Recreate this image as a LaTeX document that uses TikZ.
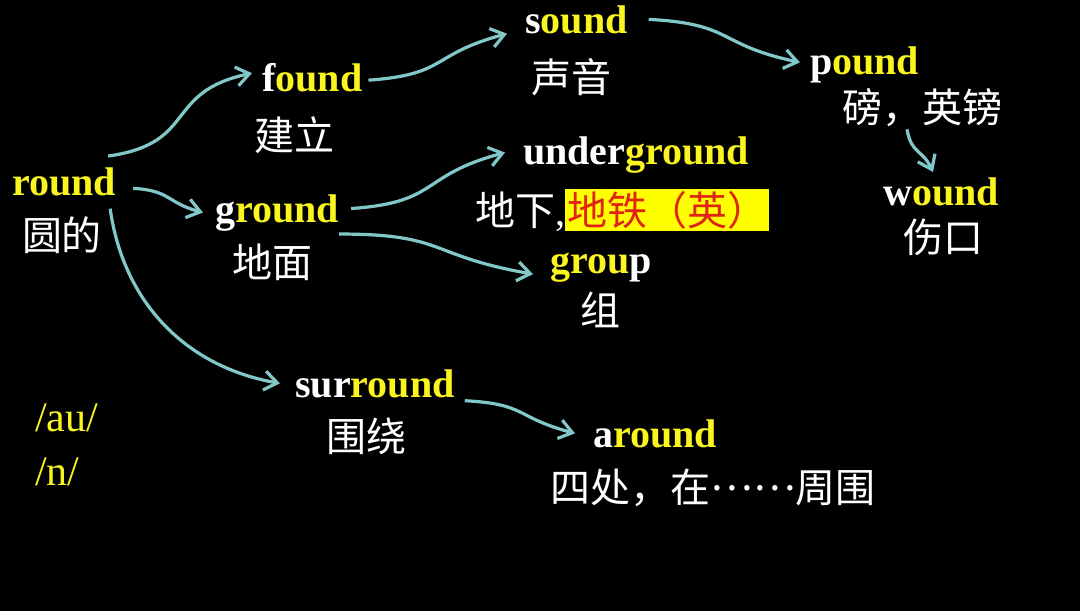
\documentclass[tikz,border=0pt]{standalone}
\usepackage{fontspec}
\setmainfont{Liberation Serif}
\newfontfamily\cjk{Noto Sans CJK SC}
\usetikzlibrary{arrows.meta}
\definecolor{wordyel}{RGB}{250,245,30}
\definecolor{linkcyan}{RGB}{130,200,200}
\definecolor{hlyel}{RGB}{255,255,0}
\definecolor{hlred}{RGB}{225,35,20}
\newcommand{\yl}[1]{\textcolor{wordyel}{#1}}

\begin{document}
\begin{tikzpicture}[x=1pt, y=1pt,
  word/.style={font=\bfseries\fontsize{40}{48}\selectfont, text=white, inner sep=0pt, anchor=base west},
  gloss/.style={font=\cjk\fontsize{40}{48}\selectfont, text=white, inner sep=0pt},
  ipa/.style={font=\fontsize{42}{50}\selectfont, text=wordyel, inner sep=0pt, anchor=base west},
  link/.style={draw=linkcyan, line width=3.2pt, -{Straight Barb[length=13pt,width=19pt]}}]
\fill[black] (0,0) rectangle (1080,-611);

\node[word] (round) at (12,-195) {\yl{round}};
\node[gloss] (roundcn) at (62,-235) {圆的};

\node[word] (found) at (262,-91) {f\yl{ound}};
\node[gloss] (foundcn) at (294,-135) {建立};

\node[word] (sound) at (525,-33) {s\yl{ound}};
\node[gloss] (soundcn) at (571,-77) {声音};

\node[word] (pound) at (810,-74) {p\yl{ound}};
\node[gloss] (poundcn) at (922,-108) {磅，英镑};

\node[word] (wound) at (883,-205) {w\yl{ound}};
\node[gloss] (woundcn) at (943,-237) {伤口};

\node[word] (underground) at (523,-164) {under\yl{ground}};
\node[gloss, anchor=west] (undergroundcn) at (475,-210) {地下{\rmfamily ,}\setlength{\fboxsep}{2pt}\colorbox{hlyel}{\textcolor{hlred}{地铁（英）}}};

\node[word] (ground) at (215,-222) {g\yl{round}};
\node[gloss] (groundcn) at (272,-262) {地面};

\node[word] (group) at (550,-273) {\yl{grou}p};
\node[gloss] (groupcn) at (600,-310) {组};

\node[word] (surround) at (295,-397) {sur\yl{round}};
\node[gloss] (surroundcn) at (366,-436) {围绕};

\node[word] (around) at (593,-447) {a\yl{round}};
\node[gloss] (aroundcn) at (713,-488) {四处，在\raisebox{12pt}{……}周围};

\node[ipa] (au) at (35,-431) {/au/};
\node[ipa] (n) at (35,-485) {/n/};

% links
\draw[link] ([xshift=-8pt,yshift=11pt]round.north east) to[out=8,in=192,looseness=1.4] ([xshift=-10pt,yshift=4pt]found.west);
\draw[link] ([xshift=17pt,yshift=-7pt]round.east) to[out=-3,in=165,looseness=1.3] ([xshift=-12pt]ground.west);
\draw[link] ([xshift=-6pt,yshift=-13pt]round.south east) to[out=-82,in=170] ([xshift=-15pt]surround.west);
\draw[link] ([xshift=6pt,yshift=-3pt]found.east) to[out=4,in=195,looseness=1.4] ([xshift=-18pt]sound.south west);
\draw[link] ([xshift=21pt]sound.east) to[out=-3,in=168,looseness=1.4] ([xshift=-10pt,yshift=2pt]pound.west);
\draw[link] ([xshift=-15pt,yshift=-2pt]poundcn.south) to[out=-80,in=115,looseness=1.3] ([xshift=-8pt,yshift=5pt]wound.north);
\draw[link] ([xshift=12pt,yshift=4pt]ground.east) to[out=4,in=195,looseness=1.4] ([xshift=-18pt,yshift=2pt]underground.west);
\draw[link] ([yshift=-3pt]ground.south east) to[out=0,in=170,looseness=1.4] ([xshift=-17pt,yshift=-7pt]group.west);
\draw[link] ([xshift=10pt,yshift=-3pt]surround.south east) to[out=-3,in=165,looseness=1.4] ([xshift=-18pt]around.west);
\end{tikzpicture}
\end{document}
